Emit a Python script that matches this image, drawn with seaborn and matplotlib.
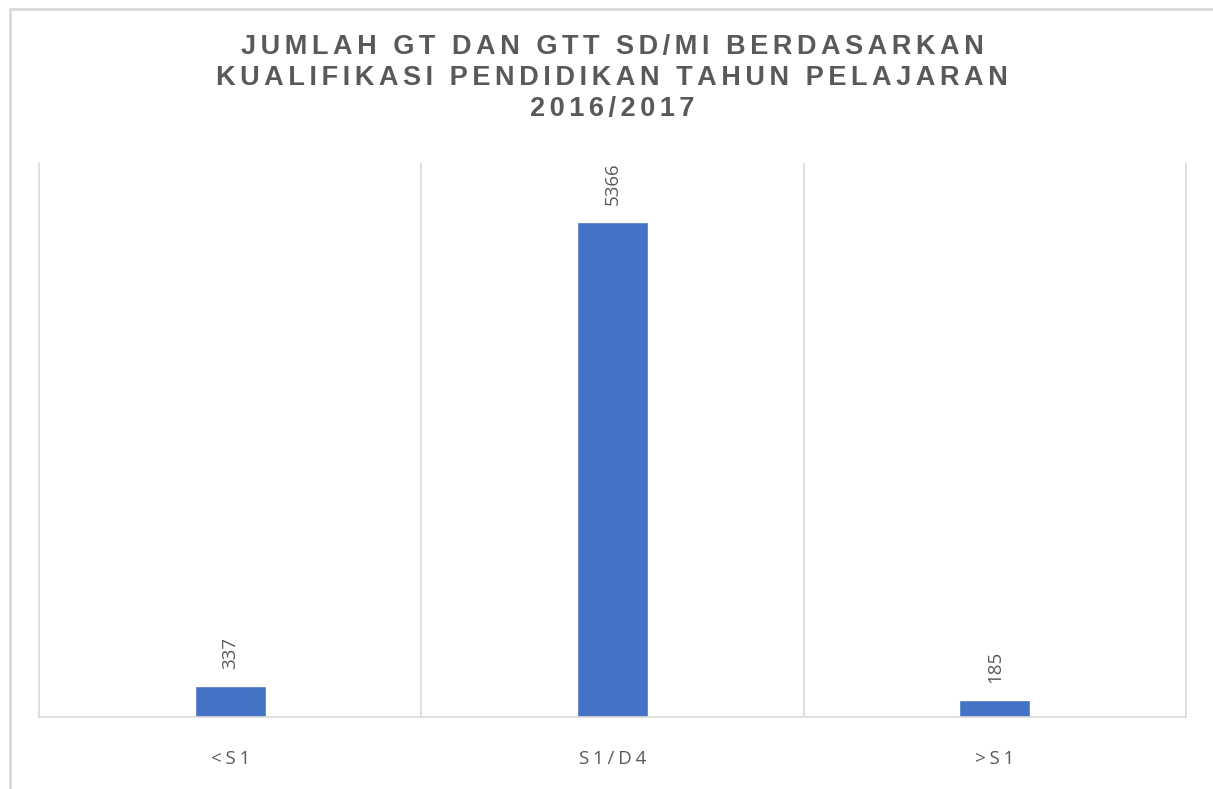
import matplotlib
matplotlib.use("Agg")
import matplotlib.pyplot as plt
from matplotlib.patches import Rectangle
import seaborn as sns
import pandas as pd

# data
kategori = ["<S1", "S1/D4", ">S1"]
jumlah = [337, 5366, 185]
judul = ["JUMLAH GT DAN GTT SD/MI BERDASARKAN",
         "KUALIFIKASI PENDIDIKAN TAHUN PELAJARAN",
         "2016/2017"]

df = pd.DataFrame({"kategori": kategori, "jumlah": jumlah})

sns.set_style("white")
plt.rcParams["font.family"] = ["Liberation Sans", "DejaVu Sans"]

abu = "#595959"
garis = "#D9D9D9"
spasi = "\u200a"


def renggang(s, n=1):
    # tiru letter-spacing dengan hair space
    return (spasi * n).join(s)


fig = plt.figure(figsize=(12.13, 7.89), dpi=100)
ax = fig.add_axes([39 / 1213, 72 / 789, 1147 / 1213, 554 / 789])

sns.barplot(data=df, x="kategori", y="jumlah", color="#4472C4",
            width=0.185, saturation=1, ax=ax)

ax.set_xlim(-0.5, 2.5)
ax.set_ylim(0, 6000)
ax.set_yticks([])
ax.set_xlabel("")
ax.set_ylabel("")

# garis pemisah kategori
ax.set_xticks([0.5, 1.5], minor=True)
ax.grid(True, which="minor", axis="x", color=garis, lw=1.2)
ax.tick_params(axis="x", which="both", length=0, pad=24)
ax.set_xticklabels([renggang(k, 2) for k in kategori], color=abu,
                   fontsize=13.5, family=["Open Sans", "DejaVu Sans"])

for s in ["left", "right", "bottom"]:
    ax.spines[s].set_color(garis)
    ax.spines[s].set_linewidth(1.2)
ax.spines["top"].set_visible(False)

# label nilai, diputar 90 derajat
for p, v in zip(ax.patches, jumlah):
    ax.annotate(str(v), (p.get_x() + p.get_width() / 2, p.get_height()),
                xytext=(0, 12), textcoords="offset points",
                rotation=90, ha="center", va="bottom", color=abu,
                fontsize=13.5, family=["Open Sans", "DejaVu Sans"])

# judul
ys = [47, 78, 109]
for t, y in zip(judul, ys):
    fig.text(612 / 1213, 1 - y / 789, renggang(t, 2), ha="center", va="center",
             fontsize=19.5, fontweight="bold", color=abu)

# bingkai chart
fig.patches.append(Rectangle((10 / 1213, -0.2), 1.5, 1.2 - 9 / 789,
                             transform=fig.transFigure, fill=False,
                             edgecolor=garis, lw=2))

fig.savefig("out.png", dpi=100)
